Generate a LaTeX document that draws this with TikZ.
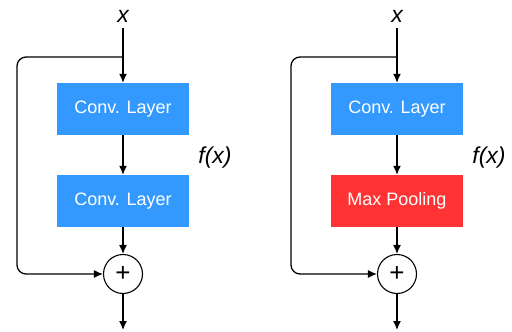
\documentclass[tikz,border=0pt]{standalone}
\usepackage{fontspec}
\setmainfont{Liberation Sans}
\usetikzlibrary{arrows.meta}
\definecolor{convblue}{HTML}{3399FF}
\definecolor{poolred}{HTML}{FF3333}
\begin{document}
\begin{tikzpicture}[x=1pt,y=-1pt,
  layer/.style={minimum width=132pt,minimum height=52pt,inner sep=0pt,text=white,font=\fontsize{18}{20}\selectfont},
  sumnode/.style={circle,draw,line width=1.1pt,minimum size=39pt,inner sep=0pt,font=\fontsize{26}{28}\selectfont},
  lbl/.style={font=\fontsize{23}{25}\selectfont\itshape,inner sep=0pt},
  conn/.style={line width=1.3pt,-{Latex[length=9pt,width=8pt]}},
  plain/.style={line width=1.3pt}]
\useasboundingbox (0,0) rectangle (512,332);
\foreach \dx/\col/\txt/\p in {0/convblue/Conv. Layer/L, 274/poolred/Max Pooling/R}{
  \begin{scope}[xshift=\dx pt]
    \node[lbl] (x\p) at (123,16) {x};
    \coordinate (br\p) at (123,57);
    \node[layer,fill=convblue] (a\p) at (123,109) {Conv. Layer};
    \node[layer,fill=\col] (b\p) at (123,201) {\txt};
    \node[sumnode] (s\p) at (123,274) {+};
    \node[lbl] (f\p) at (215,158) {f(x)};
    \coordinate (out\p) at (123,330);
    \draw[plain] ([yshift=-6pt]x\p.south) -- (br\p);
    \draw[conn] (br\p) -- (a\p.north);
    \draw[conn] (a\p.south) -- (b\p.north);
    \draw[conn] (b\p.south) -- (s\p.north);
    \draw[conn,rounded corners=9pt] (br\p) -- (17,57) -- (17,274) -- (s\p.west);
    \draw[conn] (s\p.south) -- (out\p);
  \end{scope}
}
\end{tikzpicture}
\end{document}
